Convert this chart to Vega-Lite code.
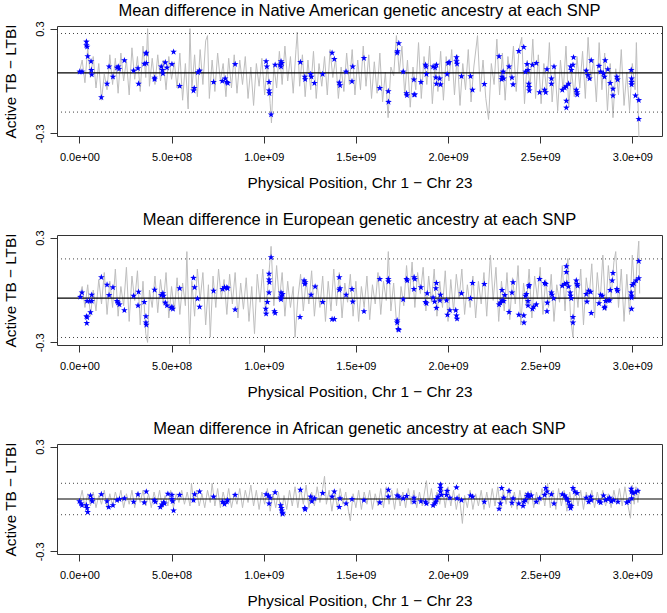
{
"$schema": "https://vega.github.io/schema/vega-lite/v6.json",
"padding": {"left": 3, "top": 2, "right": 0, "bottom": 0},
"spacing": 20,
"datasets": {
"r1": [{"k":"mean","v":0.047},{"k":"bound","v":0.272},{"k":"bound","v":-0.178}],
"r2": [{"k":"mean","v":-0.047},{"k":"bound","v":0.178},{"k":"bound","v":-0.272}],
"r3": [{"k":"mean","v":0.0},{"k":"bound","v":0.09},{"k":"bound","v":-0.09}],
"g1": [
{"x":0.00e8,"v":0.05},{"x":0.15e8,"v":0.12},{"x":0.30e8,"v":-0.01},{"x":0.45e8,"v":0.19},{"x":0.60e8,"v":0.02},{"x":0.75e8,"v":0.14},{"x":0.90e8,"v":-0.04},{"x":1.05e8,"v":0.10},{"x":1.20e8,"v":-0.11},{"x":1.35e8,"v":0.04},{"x":1.50e8,"v":-0.05},{"x":1.65e8,"v":0.15},{"x":1.80e8,"v":-0.02},{"x":1.95e8,"v":0.13},{"x":2.10e8,"v":-0.07},{"x":2.25e8,"v":0.16},{"x":2.40e8,"v":0.00},{"x":2.55e8,"v":0.12},{"x":2.70e8,"v":-0.08},{"x":2.85e8,"v":0.19},{"x":3.00e8,"v":0.01},{"x":3.15e8,"v":0.14},{"x":3.30e8,"v":-0.06},{"x":3.45e8,"v":0.20},{"x":3.60e8,"v":0.02},{"x":3.70e8,"v":0.30},{"x":3.80e8,"v":-0.03},{"x":3.95e8,"v":0.13},{"x":4.10e8,"v":-0.02},{"x":4.25e8,"v":0.15},{"x":4.40e8,"v":0.00},{"x":4.55e8,"v":0.12},{"x":4.70e8,"v":-0.05},{"x":4.85e8,"v":0.14},{"x":5.00e8,"v":0.01},{"x":5.15e8,"v":0.11},{"x":5.30e8,"v":-0.04},{"x":5.45e8,"v":0.16},{"x":5.60e8,"v":-0.11},{"x":5.75e8,"v":0.10},{"x":5.90e8,"v":-0.16},{"x":6.00e8,"v":0.30},{"x":6.10e8,"v":-0.05},{"x":6.25e8,"v":0.15},{"x":6.40e8,"v":-0.09},{"x":6.55e8,"v":0.18},{"x":6.70e8,"v":-0.02},{"x":6.85e8,"v":0.23},{"x":6.95e8,"v":0.26},{"x":7.05e8,"v":-0.10},{"x":7.20e8,"v":0.12},{"x":7.35e8,"v":-0.06},{"x":7.50e8,"v":0.16},{"x":7.65e8,"v":0.00},{"x":7.80e8,"v":0.10},{"x":7.95e8,"v":-0.09},{"x":8.10e8,"v":0.13},{"x":8.25e8,"v":-0.04},{"x":8.40e8,"v":0.15},{"x":8.55e8,"v":-0.07},{"x":8.70e8,"v":0.12},{"x":8.85e8,"v":-0.02},{"x":9.00e8,"v":0.14},{"x":9.15e8,"v":-0.10},{"x":9.30e8,"v":0.08},{"x":9.45e8,"v":-0.14},{"x":9.60e8,"v":0.10},{"x":9.75e8,"v":-0.03},{"x":9.90e8,"v":0.13},{"x":10.05e8,"v":-0.08},{"x":10.20e8,"v":0.10},{"x":10.35e8,"v":-0.13},{"x":10.42e8,"v":-0.24},{"x":10.55e8,"v":0.09},{"x":10.70e8,"v":-0.04},{"x":10.85e8,"v":0.17},{"x":11.00e8,"v":-0.02},{"x":11.15e8,"v":0.20},{"x":11.30e8,"v":0.00},{"x":11.45e8,"v":0.14},{"x":11.60e8,"v":-0.07},{"x":11.75e8,"v":0.18},{"x":11.82e8,"v":0.28},{"x":11.95e8,"v":-0.03},{"x":12.10e8,"v":0.15},{"x":12.25e8,"v":-0.09},{"x":12.40e8,"v":0.12},{"x":12.55e8,"v":-0.05},{"x":12.70e8,"v":0.17},{"x":12.85e8,"v":-0.10},{"x":13.00e8,"v":0.10},{"x":13.15e8,"v":-0.03},{"x":13.30e8,"v":0.14},{"x":13.45e8,"v":-0.08},{"x":13.60e8,"v":0.18},{"x":13.75e8,"v":0.02},{"x":13.90e8,"v":0.13},{"x":14.05e8,"v":-0.10},{"x":14.20e8,"v":0.08},{"x":14.35e8,"v":-0.06},{"x":14.50e8,"v":0.16},{"x":14.65e8,"v":-0.02},{"x":14.80e8,"v":0.18},{"x":14.95e8,"v":-0.08},{"x":15.10e8,"v":0.12},{"x":15.25e8,"v":-0.05},{"x":15.40e8,"v":0.20},{"x":15.55e8,"v":-0.03},{"x":15.70e8,"v":0.15},{"x":15.85e8,"v":-0.10},{"x":16.00e8,"v":0.11},{"x":16.15e8,"v":-0.07},{"x":16.30e8,"v":0.16},{"x":16.45e8,"v":-0.12},{"x":16.60e8,"v":0.05},{"x":16.75e8,"v":-0.21},{"x":16.90e8,"v":0.08},{"x":17.05e8,"v":0.03},{"x":17.20e8,"v":0.26},{"x":17.35e8,"v":0.05},{"x":17.50e8,"v":0.20},{"x":17.65e8,"v":-0.08},{"x":17.80e8,"v":0.12},{"x":17.95e8,"v":-0.15},{"x":18.10e8,"v":0.08},{"x":18.25e8,"v":-0.05},{"x":18.40e8,"v":0.22},{"x":18.55e8,"v":-0.10},{"x":18.70e8,"v":0.14},{"x":18.85e8,"v":-0.02},{"x":19.00e8,"v":0.20},{"x":19.15e8,"v":-0.13},{"x":19.30e8,"v":0.10},{"x":19.45e8,"v":-0.06},{"x":19.60e8,"v":0.17},{"x":19.75e8,"v":-0.11},{"x":19.90e8,"v":0.14},{"x":20.05e8,"v":0.00},{"x":20.20e8,"v":0.18},{"x":20.35e8,"v":-0.08},{"x":20.50e8,"v":0.15},{"x":20.65e8,"v":-0.14},{"x":20.80e8,"v":0.10},{"x":20.95e8,"v":-0.05},{"x":21.10e8,"v":0.18},{"x":21.25e8,"v":-0.12},{"x":21.40e8,"v":0.08},{"x":21.60e8,"v":0.26},{"x":21.75e8,"v":-0.06},{"x":21.90e8,"v":0.12},{"x":22.05e8,"v":-0.10},{"x":22.20e8,"v":-0.22},{"x":22.35e8,"v":0.10},{"x":22.50e8,"v":-0.02},{"x":22.65e8,"v":0.24},{"x":22.80e8,"v":-0.08},{"x":22.95e8,"v":0.16},{"x":23.10e8,"v":-0.11},{"x":23.25e8,"v":0.14},{"x":23.40e8,"v":0.00},{"x":23.55e8,"v":0.20},{"x":23.70e8,"v":-0.06},{"x":23.85e8,"v":0.18},{"x":24.00e8,"v":0.25},{"x":24.15e8,"v":-0.13},{"x":24.30e8,"v":0.12},{"x":24.45e8,"v":-0.04},{"x":24.60e8,"v":0.24},{"x":24.75e8,"v":-0.10},{"x":24.90e8,"v":0.15},{"x":25.05e8,"v":-0.13},{"x":25.20e8,"v":0.10},{"x":25.35e8,"v":-0.06},{"x":25.50e8,"v":0.22},{"x":25.65e8,"v":-0.12},{"x":25.80e8,"v":0.08},{"x":25.95e8,"v":-0.17},{"x":26.10e8,"v":0.12},{"x":26.25e8,"v":-0.06},{"x":26.40e8,"v":0.20},{"x":26.55e8,"v":-0.15},{"x":26.70e8,"v":0.06},{"x":26.85e8,"v":-0.09},{"x":27.00e8,"v":0.14},{"x":27.15e8,"v":-0.04},{"x":27.30e8,"v":0.17},{"x":27.45e8,"v":-0.10},{"x":27.60e8,"v":0.25},{"x":27.75e8,"v":0.00},{"x":27.90e8,"v":0.12},{"x":28.05e8,"v":-0.12},{"x":28.20e8,"v":0.22},{"x":28.35e8,"v":-0.05},{"x":28.50e8,"v":0.16},{"x":28.65e8,"v":-0.17},{"x":28.80e8,"v":0.10},{"x":28.95e8,"v":-0.21},{"x":29.10e8,"v":0.07},{"x":29.25e8,"v":-0.08},{"x":29.40e8,"v":0.18},{"x":29.55e8,"v":-0.14},{"x":29.70e8,"v":0.05},{"x":29.85e8,"v":-0.17},{"x":30.00e8,"v":0.10},{"x":30.15e8,"v":-0.05},{"x":30.22e8,"v":0.22},{"x":30.30e8,"v":-0.10},{"x":30.36e8,"v":-0.32}
],
"g2": [
{"x":0.00e8,"v":-0.04},{"x":0.15e8,"v":0.02},{"x":0.30e8,"v":-0.10},{"x":0.45e8,"v":0.03},{"x":0.60e8,"v":-0.15},{"x":0.75e8,"v":0.00},{"x":0.90e8,"v":-0.12},{"x":1.05e8,"v":0.06},{"x":1.20e8,"v":-0.08},{"x":1.35e8,"v":0.10},{"x":1.50e8,"v":-0.14},{"x":1.65e8,"v":0.05},{"x":1.80e8,"v":-0.10},{"x":1.95e8,"v":0.12},{"x":2.10e8,"v":-0.15},{"x":2.25e8,"v":0.02},{"x":2.40e8,"v":-0.09},{"x":2.55e8,"v":0.13},{"x":2.70e8,"v":-0.18},{"x":2.85e8,"v":0.08},{"x":3.00e8,"v":-0.06},{"x":3.15e8,"v":0.11},{"x":3.30e8,"v":-0.20},{"x":3.45e8,"v":0.05},{"x":3.60e8,"v":-0.25},{"x":3.70e8,"v":-0.30},{"x":3.80e8,"v":0.00},{"x":3.95e8,"v":-0.10},{"x":4.10e8,"v":0.08},{"x":4.25e8,"v":-0.13},{"x":4.40e8,"v":0.06},{"x":4.55e8,"v":-0.08},{"x":4.70e8,"v":0.10},{"x":4.85e8,"v":-0.16},{"x":5.00e8,"v":0.02},{"x":5.15e8,"v":-0.12},{"x":5.30e8,"v":0.07},{"x":5.45e8,"v":-0.14},{"x":5.60e8,"v":0.04},{"x":5.75e8,"v":-0.09},{"x":5.83e8,"v":0.22},{"x":5.98e8,"v":-0.31},{"x":6.10e8,"v":0.05},{"x":6.25e8,"v":-0.15},{"x":6.40e8,"v":0.12},{"x":6.55e8,"v":-0.06},{"x":6.70e8,"v":0.10},{"x":6.85e8,"v":-0.20},{"x":7.00e8,"v":0.03},{"x":7.10e8,"v":-0.27},{"x":7.25e8,"v":0.08},{"x":7.40e8,"v":-0.10},{"x":7.55e8,"v":0.12},{"x":7.70e8,"v":-0.05},{"x":7.85e8,"v":0.06},{"x":8.00e8,"v":-0.14},{"x":8.15e8,"v":0.09},{"x":8.30e8,"v":-0.08},{"x":8.45e8,"v":0.10},{"x":8.60e8,"v":-0.16},{"x":8.75e8,"v":0.04},{"x":8.90e8,"v":-0.11},{"x":9.05e8,"v":0.07},{"x":9.20e8,"v":-0.18},{"x":9.35e8,"v":0.02},{"x":9.50e8,"v":-0.25},{"x":9.65e8,"v":0.09},{"x":9.80e8,"v":-0.07},{"x":9.95e8,"v":0.12},{"x":10.10e8,"v":-0.13},{"x":10.25e8,"v":0.05},{"x":10.40e8,"v":0.25},{"x":10.55e8,"v":-0.09},{"x":10.70e8,"v":0.14},{"x":10.85e8,"v":-0.06},{"x":11.00e8,"v":0.10},{"x":11.15e8,"v":-0.15},{"x":11.30e8,"v":0.05},{"x":11.45e8,"v":-0.10},{"x":11.60e8,"v":0.02},{"x":11.70e8,"v":-0.27},{"x":11.85e8,"v":-0.05},{"x":12.00e8,"v":0.09},{"x":12.15e8,"v":-0.12},{"x":12.30e8,"v":0.06},{"x":12.45e8,"v":-0.08},{"x":12.60e8,"v":0.11},{"x":12.75e8,"v":-0.15},{"x":12.90e8,"v":0.03},{"x":13.05e8,"v":-0.10},{"x":13.20e8,"v":0.08},{"x":13.35e8,"v":-0.18},{"x":13.50e8,"v":0.05},{"x":13.65e8,"v":-0.12},{"x":13.80e8,"v":0.12},{"x":13.95e8,"v":-0.09},{"x":14.10e8,"v":0.10},{"x":14.25e8,"v":-0.16},{"x":14.40e8,"v":0.04},{"x":14.55e8,"v":-0.07},{"x":14.70e8,"v":0.09},{"x":14.85e8,"v":-0.15},{"x":15.00e8,"v":0.05},{"x":15.15e8,"v":-0.18},{"x":15.30e8,"v":0.02},{"x":15.45e8,"v":-0.10},{"x":15.60e8,"v":0.08},{"x":15.75e8,"v":-0.17},{"x":15.90e8,"v":0.03},{"x":16.05e8,"v":-0.08},{"x":16.20e8,"v":0.10},{"x":16.35e8,"v":-0.14},{"x":16.50e8,"v":0.05},{"x":16.65e8,"v":-0.06},{"x":16.76e8,"v":0.22},{"x":16.90e8,"v":-0.12},{"x":17.05e8,"v":0.04},{"x":17.20e8,"v":-0.18},{"x":17.30e8,"v":-0.23},{"x":17.45e8,"v":0.02},{"x":17.60e8,"v":-0.09},{"x":17.75e8,"v":0.14},{"x":17.90e8,"v":-0.05},{"x":18.05e8,"v":0.16},{"x":18.20e8,"v":-0.10},{"x":18.35e8,"v":0.10},{"x":18.50e8,"v":-0.02},{"x":18.65e8,"v":0.13},{"x":18.80e8,"v":-0.12},{"x":18.95e8,"v":0.08},{"x":19.10e8,"v":-0.07},{"x":19.25e8,"v":0.12},{"x":19.40e8,"v":-0.15},{"x":19.55e8,"v":0.05},{"x":19.70e8,"v":-0.10},{"x":19.85e8,"v":0.11},{"x":20.00e8,"v":-0.18},{"x":20.15e8,"v":0.06},{"x":20.30e8,"v":-0.12},{"x":20.45e8,"v":0.09},{"x":20.60e8,"v":-0.05},{"x":20.75e8,"v":0.12},{"x":20.90e8,"v":-0.14},{"x":21.05e8,"v":0.03},{"x":21.20e8,"v":-0.10},{"x":21.35e8,"v":0.08},{"x":21.50e8,"v":-0.16},{"x":21.65e8,"v":0.05},{"x":21.80e8,"v":-0.08},{"x":21.95e8,"v":0.10},{"x":22.10e8,"v":-0.15},{"x":22.30e8,"v":0.20},{"x":22.45e8,"v":-0.06},{"x":22.60e8,"v":0.13},{"x":22.75e8,"v":-0.18},{"x":22.90e8,"v":0.05},{"x":23.05e8,"v":-0.12},{"x":23.20e8,"v":0.10},{"x":23.35e8,"v":-0.17},{"x":23.50e8,"v":0.07},{"x":23.65e8,"v":-0.08},{"x":23.80e8,"v":0.14},{"x":23.95e8,"v":-0.20},{"x":24.10e8,"v":0.04},{"x":24.25e8,"v":-0.09},{"x":24.40e8,"v":0.12},{"x":24.55e8,"v":-0.16},{"x":24.70e8,"v":0.08},{"x":24.85e8,"v":-0.05},{"x":25.00e8,"v":0.13},{"x":25.15e8,"v":-0.14},{"x":25.30e8,"v":0.06},{"x":25.45e8,"v":-0.10},{"x":25.60e8,"v":0.09},{"x":25.75e8,"v":-0.18},{"x":25.90e8,"v":0.03},{"x":26.05e8,"v":-0.07},{"x":26.20e8,"v":0.14},{"x":26.35e8,"v":-0.12},{"x":26.50e8,"v":0.18},{"x":26.65e8,"v":-0.16},{"x":26.78e8,"v":-0.27},{"x":26.90e8,"v":0.06},{"x":27.05e8,"v":-0.10},{"x":27.20e8,"v":0.12},{"x":27.35e8,"v":-0.20},{"x":27.50e8,"v":0.07},{"x":27.65e8,"v":-0.05},{"x":27.80e8,"v":0.15},{"x":27.95e8,"v":-0.16},{"x":28.10e8,"v":0.10},{"x":28.25e8,"v":-0.08},{"x":28.40e8,"v":0.20},{"x":28.55e8,"v":-0.12},{"x":28.70e8,"v":0.14},{"x":28.85e8,"v":-0.04},{"x":29.00e8,"v":0.16},{"x":29.10e8,"v":0.22},{"x":29.25e8,"v":-0.10},{"x":29.40e8,"v":0.12},{"x":29.55e8,"v":-0.18},{"x":29.70e8,"v":0.09},{"x":29.85e8,"v":-0.14},{"x":30.00e8,"v":0.20},{"x":30.15e8,"v":-0.05},{"x":30.25e8,"v":0.15},{"x":30.35e8,"v":0.28},{"x":30.40e8,"v":-0.02}
],
"g3": [
{"x":0.00e8,"v":-0.02},{"x":0.15e8,"v":0.05},{"x":0.30e8,"v":-0.05},{"x":0.45e8,"v":0.03},{"x":0.60e8,"v":-0.04},{"x":0.75e8,"v":0.04},{"x":0.90e8,"v":-0.05},{"x":1.05e8,"v":0.02},{"x":1.20e8,"v":-0.03},{"x":1.35e8,"v":0.05},{"x":1.50e8,"v":-0.05},{"x":1.65e8,"v":0.03},{"x":1.80e8,"v":-0.04},{"x":1.95e8,"v":0.04},{"x":2.10e8,"v":-0.02},{"x":2.25e8,"v":0.05},{"x":2.40e8,"v":-0.05},{"x":2.55e8,"v":0.03},{"x":2.70e8,"v":-0.03},{"x":2.85e8,"v":0.05},{"x":3.00e8,"v":-0.05},{"x":3.15e8,"v":0.04},{"x":3.30e8,"v":-0.02},{"x":3.45e8,"v":0.05},{"x":3.60e8,"v":-0.04},{"x":3.75e8,"v":0.03},{"x":3.90e8,"v":-0.05},{"x":4.05e8,"v":0.04},{"x":4.20e8,"v":-0.03},{"x":4.35e8,"v":0.05},{"x":4.50e8,"v":-0.05},{"x":4.65e8,"v":0.02},{"x":4.80e8,"v":-0.04},{"x":4.95e8,"v":0.05},{"x":5.10e8,"v":-0.05},{"x":5.25e8,"v":0.03},{"x":5.40e8,"v":-0.02},{"x":5.55e8,"v":0.05},{"x":5.70e8,"v":-0.03},{"x":5.85e8,"v":0.04},{"x":6.00e8,"v":-0.04},{"x":6.08e8,"v":0.09},{"x":6.20e8,"v":-0.02},{"x":6.35e8,"v":0.05},{"x":6.50e8,"v":-0.04},{"x":6.65e8,"v":0.03},{"x":6.80e8,"v":-0.05},{"x":6.95e8,"v":0.05},{"x":7.10e8,"v":-0.02},{"x":7.20e8,"v":0.09},{"x":7.35e8,"v":-0.04},{"x":7.50e8,"v":0.06},{"x":7.65e8,"v":-0.05},{"x":7.80e8,"v":0.04},{"x":7.95e8,"v":-0.03},{"x":8.10e8,"v":0.06},{"x":8.25e8,"v":-0.05},{"x":8.40e8,"v":0.03},{"x":8.55e8,"v":-0.03},{"x":8.70e8,"v":0.06},{"x":8.85e8,"v":-0.05},{"x":9.00e8,"v":0.05},{"x":9.15e8,"v":-0.02},{"x":9.30e8,"v":0.08},{"x":9.45e8,"v":-0.04},{"x":9.60e8,"v":0.05},{"x":9.75e8,"v":-0.06},{"x":9.90e8,"v":0.04},{"x":10.05e8,"v":-0.03},{"x":10.20e8,"v":0.06},{"x":10.35e8,"v":-0.07},{"x":10.50e8,"v":0.03},{"x":10.65e8,"v":-0.05},{"x":10.80e8,"v":0.04},{"x":10.95e8,"v":-0.10},{"x":11.10e8,"v":0.02},{"x":11.25e8,"v":-0.06},{"x":11.40e8,"v":0.05},{"x":11.55e8,"v":-0.04},{"x":11.70e8,"v":0.07},{"x":11.85e8,"v":-0.05},{"x":12.00e8,"v":0.06},{"x":12.15e8,"v":-0.03},{"x":12.30e8,"v":0.08},{"x":12.45e8,"v":-0.05},{"x":12.60e8,"v":0.04},{"x":12.75e8,"v":-0.04},{"x":12.90e8,"v":0.07},{"x":13.05e8,"v":-0.02},{"x":13.20e8,"v":0.06},{"x":13.30e8,"v":0.13},{"x":13.40e8,"v":-0.03},{"x":13.55e8,"v":0.05},{"x":13.70e8,"v":-0.07},{"x":13.85e8,"v":0.04},{"x":14.00e8,"v":-0.05},{"x":14.15e8,"v":0.06},{"x":14.30e8,"v":-0.03},{"x":14.45e8,"v":0.04},{"x":14.60e8,"v":-0.07},{"x":14.70e8,"v":-0.125},{"x":14.85e8,"v":0.03},{"x":15.00e8,"v":-0.05},{"x":15.15e8,"v":0.05},{"x":15.30e8,"v":-0.06},{"x":15.45e8,"v":0.04},{"x":15.60e8,"v":-0.03},{"x":15.75e8,"v":0.05},{"x":15.90e8,"v":-0.06},{"x":16.05e8,"v":0.03},{"x":16.20e8,"v":-0.04},{"x":16.35e8,"v":0.06},{"x":16.50e8,"v":-0.05},{"x":16.65e8,"v":0.07},{"x":16.80e8,"v":-0.03},{"x":16.95e8,"v":0.05},{"x":17.10e8,"v":-0.06},{"x":17.25e8,"v":0.06},{"x":17.40e8,"v":-0.04},{"x":17.55e8,"v":0.04},{"x":17.70e8,"v":-0.05},{"x":17.85e8,"v":0.06},{"x":18.00e8,"v":-0.03},{"x":18.15e8,"v":0.05},{"x":18.30e8,"v":-0.05},{"x":18.45e8,"v":0.04},{"x":18.60e8,"v":-0.04},{"x":18.83e8,"v":0.105},{"x":18.95e8,"v":-0.03},{"x":19.10e8,"v":0.06},{"x":19.25e8,"v":-0.05},{"x":19.40e8,"v":0.04},{"x":19.55e8,"v":-0.03},{"x":19.70e8,"v":0.06},{"x":19.85e8,"v":-0.05},{"x":20.00e8,"v":0.07},{"x":20.15e8,"v":-0.04},{"x":20.30e8,"v":0.05},{"x":20.45e8,"v":-0.06},{"x":20.60e8,"v":0.03},{"x":20.78e8,"v":-0.14},{"x":20.90e8,"v":0.02},{"x":21.05e8,"v":-0.05},{"x":21.20e8,"v":0.05},{"x":21.35e8,"v":-0.06},{"x":21.50e8,"v":0.03},{"x":21.65e8,"v":-0.04},{"x":21.80e8,"v":0.05},{"x":21.95e8,"v":-0.06},{"x":22.10e8,"v":0.04},{"x":22.25e8,"v":-0.05},{"x":22.40e8,"v":0.06},{"x":22.55e8,"v":-0.04},{"x":22.70e8,"v":0.07},{"x":22.85e8,"v":-0.06},{"x":23.00e8,"v":0.05},{"x":23.15e8,"v":-0.03},{"x":23.30e8,"v":0.06},{"x":23.45e8,"v":-0.05},{"x":23.60e8,"v":0.04},{"x":23.75e8,"v":-0.06},{"x":23.90e8,"v":0.05},{"x":24.05e8,"v":-0.04},{"x":24.20e8,"v":0.04},{"x":24.35e8,"v":-0.03},{"x":24.50e8,"v":0.05},{"x":24.65e8,"v":-0.05},{"x":24.80e8,"v":0.04},{"x":24.95e8,"v":-0.03},{"x":25.10e8,"v":0.06},{"x":25.25e8,"v":-0.04},{"x":25.40e8,"v":0.09},{"x":25.55e8,"v":-0.05},{"x":25.70e8,"v":0.05},{"x":25.85e8,"v":-0.06},{"x":26.00e8,"v":0.06},{"x":26.15e8,"v":-0.04},{"x":26.30e8,"v":0.05},{"x":26.45e8,"v":-0.07},{"x":26.60e8,"v":0.04},{"x":26.75e8,"v":-0.05},{"x":26.90e8,"v":0.06},{"x":27.05e8,"v":-0.04},{"x":27.20e8,"v":0.05},{"x":27.35e8,"v":-0.06},{"x":27.50e8,"v":0.04},{"x":27.65e8,"v":-0.03},{"x":27.80e8,"v":0.05},{"x":27.95e8,"v":-0.05},{"x":28.10e8,"v":0.04},{"x":28.25e8,"v":-0.03},{"x":28.40e8,"v":0.05},{"x":28.55e8,"v":-0.04},{"x":28.70e8,"v":0.03},{"x":28.85e8,"v":-0.05},{"x":29.00e8,"v":0.05},{"x":29.15e8,"v":-0.03},{"x":29.30e8,"v":0.06},{"x":29.45e8,"v":-0.04},{"x":29.60e8,"v":0.07},{"x":29.75e8,"v":-0.03},{"x":29.90e8,"v":-0.11},{"x":30.00e8,"v":0.08},{"x":30.10e8,"v":-0.03},{"x":30.20e8,"v":0.07},{"x":30.30e8,"v":-0.02},{"x":30.38e8,"v":0.05}
],
"s1": [
{"x":0.02e8,"v":0.053},{"x":0.14e8,"v":0.053},{"x":0.38e8,"v":0.225},{"x":0.38e8,"v":0.204},{"x":0.42e8,"v":0.196},{"x":0.45e8,"v":0.141},{"x":0.63e8,"v":0.112},{"x":0.65e8,"v":0.063},{"x":0.67e8,"v":0.037},{"x":1.19e8,"v":-0.094},{"x":1.50e8,"v":-0.016},{"x":1.61e8,"v":0.082},{"x":1.82e8,"v":0.024},{"x":2.04e8,"v":0.076},{"x":2.11e8,"v":0.082},{"x":2.15e8,"v":0.069},{"x":2.44e8,"v":0.118},{"x":2.94e8,"v":0.059},{"x":3.18e8,"v":0.073},{"x":3.21e8,"v":-0.016},{"x":3.52e8,"v":0.098},{"x":3.63e8,"v":0.161},{"x":3.61e8,"v":0.157},{"x":3.63e8,"v":0.102},{"x":4.08e8,"v":0.018},{"x":4.08e8,"v":0.010},{"x":4.44e8,"v":0.082},{"x":4.50e8,"v":0.063},{"x":4.53e8,"v":0.043},{"x":4.66e8,"v":0.106},{"x":4.75e8,"v":0.076},{"x":5.02e8,"v":0.096},{"x":5.11e8,"v":0.167},{"x":5.44e8,"v":-0.029},{"x":6.19e8,"v":-0.055},{"x":6.23e8,"v":-0.041},{"x":6.43e8,"v":0.049},{"x":6.52e8,"v":0.059},{"x":7.28e8,"v":-0.006},{"x":7.75e8,"v":0.0},{"x":7.91e8,"v":0.014},{"x":8.0e8,"v":-0.006},{"x":8.05e8,"v":-0.012},{"x":8.45e8,"v":0.096},{"x":10.13e8,"v":0.112},{"x":10.17e8,"v":0.082},{"x":10.29e8,"v":-0.006},{"x":10.29e8,"v":-0.055},{"x":10.31e8,"v":-0.071},{"x":10.40e8,"v":-0.192},{"x":10.62e8,"v":0.092},{"x":10.94e8,"v":0.112},{"x":10.98e8,"v":0.102},{"x":10.94e8,"v":0.082},{"x":10.89e8,"v":0.092},{"x":11.99e8,"v":0.108},{"x":12.23e8,"v":0.024},{"x":12.25e8,"v":0.010},{"x":12.55e8,"v":0.039},{"x":12.59e8,"v":0.024},{"x":12.75e8,"v":-0.012},{"x":13.20e8,"v":0.039},{"x":13.71e8,"v":0.161},{"x":13.83e8,"v":0.125},{"x":14.10e8,"v":-0.010},{"x":14.14e8,"v":-0.025},{"x":14.47e8,"v":0.053},{"x":14.79e8,"v":-0.002},{"x":14.83e8,"v":0.082},
{"x":15.44e8,"v":0.131},{"x":16.30e8,"v":-0.041},{"x":16.76e8,"v":-0.059},{"x":16.77e8,"v":-0.120},{"x":17.24e8,"v":0.161},{"x":17.26e8,"v":0.170},{"x":17.33e8,"v":0.216},{"x":17.57e8,"v":0.053},{"x":17.75e8,"v":-0.071},{"x":17.77e8,"v":-0.082},{"x":18.16e8,"v":-0.078},{"x":18.20e8,"v":-0.078},{"x":18.15e8,"v":0.008},{"x":18.53e8,"v":-0.006},{"x":18.78e8,"v":0.092},{"x":18.81e8,"v":0.082},{"x":18.83e8,"v":0.039},{"x":19.19e8,"v":0.082},{"x":19.37e8,"v":0.092},{"x":19.30e8,"v":0.076},{"x":19.34e8,"v":0.020},{"x":19.55e8,"v":0.014},{"x":19.37e8,"v":-0.016},{"x":19.59e8,"v":-0.020},{"x":19.95e8,"v":0.039},{"x":20.01e8,"v":0.102},{"x":20.06e8,"v":0.108},{"x":20.46e8,"v":0.135},{"x":20.46e8,"v":0.112},{"x":20.49e8,"v":0.098},{"x":20.73e8,"v":0.027},{"x":21.22e8,"v":0.027},{"x":21.33e8,"v":-0.051},{"x":21.97e8,"v":-0.018},{"x":22.77e8,"v":0.141},{"x":22.99e8,"v":0.053},{"x":22.93e8,"v":0.024},{"x":23.02e8,"v":0.014},{"x":22.91e8,"v":0.010},{"x":23.31e8,"v":0.082},{"x":23.47e8,"v":0.020},{"x":23.53e8,"v":-0.020},{"x":23.84e8,"v":0.171},{"x":24.11e8,"v":0.194},{"x":24.21e8,"v":0.053},{"x":24.34e8,"v":0.063},{"x":24.29e8,"v":0.096},{"x":24.58e8,"v":0.092},{"x":24.79e8,"v":0.102},{"x":24.38e8,"v":-0.016},{"x":24.40e8,"v":-0.035},{"x":24.41e8,"v":-0.055},{"x":24.97e8,"v":-0.065},{"x":25.24e8,"v":-0.051},{"x":25.30e8,"v":-0.065},{"x":25.37e8,"v":0.067},{"x":25.61e8,"v":0.014},{"x":25.61e8,"v":-0.016},{"x":25.75e8,"v":0.082},{"x":26.20e8,"v":-0.051},{"x":26.33e8,"v":-0.039},{"x":26.42e8,"v":-0.031},{"x":26.54e8,"v":-0.016},{"x":26.42e8,"v":-0.114},{"x":26.42e8,"v":-0.153},{"x":26.65e8,"v":0.082},{"x":26.69e8,"v":0.063},{"x":26.78e8,"v":0.092},{"x":26.81e8,"v":0.135},{"x":26.96e8,"v":-0.051},{"x":27.0e8,"v":-0.065},{"x":27.01e8,"v":-0.078},{"x":27.50e8,"v":0.059},{"x":27.59e8,"v":0.033},{"x":27.68e8,"v":0.014},{"x":27.77e8,"v":0.118},{"x":28.19e8,"v":0.086},{"x":28.28e8,"v":0.053},{"x":28.44e8,"v":0.043},{"x":28.49e8,"v":0.024},{"x":28.53e8,"v":0.118},{"x":28.67e8,"v":0.067},{"x":28.80e8,"v":-0.012},{"x":28.95e8,"v":-0.045},{"x":28.95e8,"v":-0.084},{"x":29.16e8,"v":0.024},{"x":29.20e8,"v":0.008},{"x":29.94e8,"v":0.063},{"x":29.96e8,"v":0.014},{"x":29.96e8,"v":-0.006},{"x":29.96e8,"v":-0.020},{"x":30.17e8,"v":-0.084},{"x":30.35e8,"v":-0.110},{"x":30.35e8,"v":-0.218}
],
"s2": [
{"x":0.05e8,"v":-0.040},{"x":0.14e8,"v":-0.015},{"x":0.42e8,"v":-0.063},{"x":0.56e8,"v":-0.063},{"x":0.67e8,"v":-0.028},{"x":0.67e8,"v":-0.063},{"x":0.38e8,"v":-0.151},{"x":0.42e8,"v":-0.157},{"x":0.40e8,"v":-0.190},{"x":0.60e8,"v":-0.128},{"x":1.19e8,"v":0.073},{"x":1.50e8,"v":0.030},{"x":1.61e8,"v":-0.030},{"x":1.82e8,"v":0.015},{"x":2.04e8,"v":-0.063},{"x":2.09e8,"v":-0.073},{"x":2.17e8,"v":-0.083},{"x":2.44e8,"v":-0.116},{"x":2.94e8,"v":-0.034},{"x":3.18e8,"v":-0.089},{"x":3.21e8,"v":-0.011},{"x":3.52e8,"v":-0.069},{"x":3.61e8,"v":-0.151},{"x":3.61e8,"v":-0.187},{"x":3.63e8,"v":-0.200},{"x":4.08e8,"v":0.001},{"x":4.44e8,"v":-0.030},{"x":4.53e8,"v":-0.019},{"x":4.57e8,"v":-0.034},{"x":4.66e8,"v":-0.073},{"x":4.75e8,"v":-0.089},{"x":4.98e8,"v":-0.103},{"x":5.07e8,"v":-0.108},{"x":5.02e8,"v":-0.097},{"x":5.44e8,"v":0.009},{"x":6.19e8,"v":0.069},{"x":6.25e8,"v":0.015},{"x":6.41e8,"v":-0.050},{"x":6.52e8,"v":-0.097},{"x":7.28e8,"v":-0.005},{"x":7.77e8,"v":0.005},{"x":7.87e8,"v":0.015},{"x":8.00e8,"v":0.015},{"x":8.04e8,"v":0.009},{"x":8.45e8,"v":-0.112},{"x":10.11e8,"v":-0.108},{"x":10.13e8,"v":-0.136},{"x":10.20e8,"v":-0.069},{"x":10.29e8,"v":-0.015},{"x":10.31e8,"v":0.044},{"x":10.29e8,"v":0.060},{"x":10.29e8,"v":0.093},{"x":10.40e8,"v":0.187},{"x":10.58e8,"v":-0.122},{"x":10.62e8,"v":-0.132},{"x":10.94e8,"v":-0.015},{"x":10.98e8,"v":-0.034},{"x":11.02e8,"v":-0.024},{"x":10.94e8,"v":-0.054},{"x":10.92e8,"v":-0.044},{"x":11.97e8,"v":-0.155},{"x":12.19e8,"v":0.054},{"x":12.25e8,"v":0.044},{"x":12.23e8,"v":0.034},{"x":12.57e8,"v":-0.028},{"x":12.79e8,"v":0.019},{"x":13.20e8,"v":-0.069},{"x":13.71e8,"v":-0.167},{"x":13.83e8,"v":-0.167},{"x":14.10e8,"v":0.073},{"x":14.14e8,"v":0.009},{"x":14.10e8,"v":0.001},{"x":14.47e8,"v":-0.028},{"x":14.79e8,"v":0.005},{"x":14.83e8,"v":-0.067},
{"x":15.44e8,"v":-0.122},{"x":16.30e8,"v":0.063},{"x":16.76e8,"v":0.063},{"x":16.77e8,"v":0.048},{"x":17.24e8,"v":-0.175},{"x":17.24e8,"v":-0.187},{"x":17.33e8,"v":-0.229},{"x":17.30e8,"v":-0.224},{"x":17.57e8,"v":-0.054},{"x":17.75e8,"v":0.063},{"x":17.79e8,"v":0.054},{"x":18.16e8,"v":0.073},{"x":18.20e8,"v":0.063},{"x":18.15e8,"v":0.005},{"x":18.53e8,"v":0.015},{"x":18.78e8,"v":-0.069},{"x":18.83e8,"v":-0.077},{"x":18.87e8,"v":-0.019},{"x":19.19e8,"v":-0.044},{"x":19.27e8,"v":-0.067},{"x":19.37e8,"v":-0.103},{"x":19.34e8,"v":0.009},{"x":19.37e8,"v":0.040},{"x":19.59e8,"v":-0.028},{"x":19.56e8,"v":-0.060},{"x":19.92e8,"v":-0.060},{"x":19.97e8,"v":-0.142},{"x":20.10e8,"v":-0.116},{"x":20.42e8,"v":-0.116},{"x":20.46e8,"v":-0.147},{"x":20.49e8,"v":-0.165},{"x":20.73e8,"v":-0.019},{"x":21.22e8,"v":-0.048},{"x":21.33e8,"v":0.040},{"x":21.97e8,"v":0.034},{"x":22.77e8,"v":-0.083},{"x":22.84e8,"v":-0.073},{"x":22.93e8,"v":-0.060},{"x":23.02e8,"v":-0.063},{"x":23.08e8,"v":-0.030},{"x":22.93e8,"v":-0.001},{"x":23.31e8,"v":-0.126},{"x":23.47e8,"v":-0.015},{"x":23.53e8,"v":0.044},{"x":23.84e8,"v":-0.142},{"x":24.11e8,"v":-0.146},{"x":24.12e8,"v":-0.187},{"x":24.20e8,"v":-0.034},{"x":24.25e8,"v":-0.024},{"x":24.34e8,"v":-0.063},{"x":24.38e8,"v":0.020},{"x":24.40e8,"v":0.028},{"x":24.34e8,"v":-0.089},{"x":24.58e8,"v":-0.108},{"x":24.65e8,"v":-0.097},{"x":24.79e8,"v":-0.083},{"x":24.97e8,"v":0.063},{"x":25.24e8,"v":0.040},{"x":25.30e8,"v":0.034},{"x":25.37e8,"v":-0.122},{"x":25.39e8,"v":-0.073},{"x":25.61e8,"v":-0.015},{"x":25.64e8,"v":-0.028},{"x":25.73e8,"v":-0.048},{"x":26.20e8,"v":0.024},{"x":26.33e8,"v":0.034},{"x":26.42e8,"v":0.136},{"x":26.42e8,"v":0.103},{"x":26.45e8,"v":0.040},{"x":26.54e8,"v":0.020},{"x":26.63e8,"v":-0.015},{"x":26.65e8,"v":-0.034},{"x":26.69e8,"v":-0.048},{"x":26.78e8,"v":-0.155},{"x":26.78e8,"v":-0.187},{"x":26.96e8,"v":0.054},{"x":27.00e8,"v":0.034},{"x":27.03e8,"v":0.024},{"x":27.50e8,"v":-0.024},{"x":27.54e8,"v":-0.067},{"x":27.63e8,"v":-0.005},{"x":27.74e8,"v":-0.011},{"x":27.77e8,"v":-0.132},{"x":28.19e8,"v":-0.077},{"x":28.28e8,"v":-0.028},{"x":28.37e8,"v":-0.034},{"x":28.49e8,"v":-0.103},{"x":28.50e8,"v":-0.097},{"x":28.55e8,"v":-0.063},{"x":28.68e8,"v":-0.060},{"x":28.77e8,"v":-0.060},{"x":28.80e8,"v":-0.001},{"x":28.91e8,"v":0.054},{"x":28.95e8,"v":0.097},{"x":29.16e8,"v":0.005},{"x":29.20e8,"v":-0.005},{"x":29.94e8,"v":-0.015},{"x":29.96e8,"v":-0.034},{"x":29.96e8,"v":-0.044},{"x":29.96e8,"v":-0.108},{"x":30.00e8,"v":0.028},{"x":30.08e8,"v":0.038},{"x":30.21e8,"v":0.054},{"x":30.35e8,"v":0.067},{"x":30.35e8,"v":0.165}
],
"s3": [
{"x":0.00e8,"v":-0.013},{"x":0.09e8,"v":-0.026},{"x":0.14e8,"v":-0.036},{"x":0.38e8,"v":-0.036},{"x":0.45e8,"v":-0.075},{"x":0.42e8,"v":-0.052},{"x":0.60e8,"v":0.019},{"x":0.67e8,"v":-0.001},{"x":0.70e8,"v":-0.013},{"x":1.19e8,"v":0.027},{"x":1.50e8,"v":-0.013},{"x":1.59e8,"v":-0.046},{"x":1.82e8,"v":-0.036},{"x":2.04e8,"v":-0.007},{"x":2.17e8,"v":-0.001},{"x":2.44e8,"v":0.003},{"x":2.94e8,"v":-0.016},{"x":3.18e8,"v":0.027},{"x":3.52e8,"v":-0.020},{"x":3.63e8,"v":0.042},{"x":4.06e8,"v":-0.007},{"x":4.12e8,"v":-0.016},{"x":4.39e8,"v":-0.046},{"x":4.48e8,"v":-0.032},{"x":4.57e8,"v":-0.020},{"x":4.62e8,"v":-0.026},{"x":4.80e8,"v":0.029},{"x":5.02e8,"v":0.023},{"x":5.02e8,"v":-0.001},{"x":5.06e8,"v":-0.013},{"x":5.11e8,"v":-0.066},{"x":5.44e8,"v":0.023},{"x":6.19e8,"v":-0.007},{"x":6.25e8,"v":0.027},{"x":6.52e8,"v":0.042},{"x":7.28e8,"v":0.013},{"x":7.77e8,"v":-0.016},{"x":7.87e8,"v":-0.030},{"x":8.00e8,"v":-0.016},{"x":8.04e8,"v":-0.007},{"x":8.45e8,"v":0.023},{"x":10.13e8,"v":0.027},{"x":10.26e8,"v":0.019},{"x":10.35e8,"v":0.007},{"x":10.29e8,"v":-0.026},{"x":10.62e8,"v":0.038},{"x":10.92e8,"v":-0.036},{"x":10.96e8,"v":-0.052},{"x":10.98e8,"v":-0.066},{"x":11.02e8,"v":-0.079},{"x":11.03e8,"v":-0.085},{"x":11.99e8,"v":0.052},{"x":12.23e8,"v":-0.052},{"x":12.25e8,"v":-0.060},{"x":12.55e8,"v":0.013},{"x":12.61e8,"v":-0.013},{"x":12.75e8,"v":0.003},{"x":13.20e8,"v":0.033},{"x":13.71e8,"v":0.013},{"x":13.83e8,"v":0.042},{"x":14.10e8,"v":-0.046},{"x":14.14e8,"v":0.003},{"x":14.47e8,"v":-0.026},{"x":14.79e8,"v":-0.001},
{"x":15.44e8,"v":-0.007},{"x":16.30e8,"v":-0.020},{"x":16.76e8,"v":0.052},{"x":16.76e8,"v":0.013},{"x":17.24e8,"v":0.019},{"x":17.33e8,"v":0.013},{"x":17.57e8,"v":0.003},{"x":17.75e8,"v":0.017},{"x":18.15e8,"v":0.007},{"x":18.16e8,"v":-0.016},{"x":18.53e8,"v":-0.013},{"x":18.78e8,"v":-0.016},{"x":18.83e8,"v":-0.026},{"x":19.19e8,"v":-0.036},{"x":19.28e8,"v":-0.026},{"x":19.34e8,"v":-0.016},{"x":19.37e8,"v":-0.001},{"x":19.46e8,"v":0.013},{"x":19.59e8,"v":0.082},{"x":19.59e8,"v":0.062},{"x":19.59e8,"v":0.042},{"x":19.64e8,"v":0.023},{"x":19.92e8,"v":0.023},{"x":19.95e8,"v":0.046},{"x":20.10e8,"v":0.007},{"x":20.46e8,"v":0.066},{"x":20.49e8,"v":0.003},{"x":20.73e8,"v":-0.007},{"x":21.22e8,"v":0.019},{"x":21.33e8,"v":0.013},{"x":21.97e8,"v":-0.016},{"x":22.77e8,"v":-0.056},{"x":22.84e8,"v":-0.026},{"x":22.91e8,"v":0.062},{"x":23.02e8,"v":0.007},{"x":23.31e8,"v":0.046},{"x":23.47e8,"v":-0.022},{"x":23.53e8,"v":0.003},{"x":23.84e8,"v":-0.026},{"x":24.07e8,"v":-0.040},{"x":24.12e8,"v":-0.016},{"x":24.20e8,"v":-0.007},{"x":24.29e8,"v":0.017},{"x":24.34e8,"v":0.027},{"x":24.40e8,"v":0.013},{"x":24.52e8,"v":0.019},{"x":24.79e8,"v":-0.016},{"x":24.97e8,"v":0.003},{"x":25.24e8,"v":0.023},{"x":25.30e8,"v":0.062},{"x":25.37e8,"v":0.042},{"x":25.61e8,"v":0.027},{"x":25.75e8,"v":-0.026},{"x":26.20e8,"v":0.027},{"x":26.33e8,"v":0.019},{"x":26.42e8,"v":0.007},{"x":26.45e8,"v":-0.001},{"x":26.54e8,"v":-0.016},{"x":26.60e8,"v":-0.036},{"x":26.65e8,"v":-0.052},{"x":26.69e8,"v":-0.040},{"x":26.78e8,"v":0.062},{"x":26.87e8,"v":0.042},{"x":27.00e8,"v":0.033},{"x":27.50e8,"v":0.007},{"x":27.63e8,"v":-0.016},{"x":27.74e8,"v":0.013},{"x":27.77e8,"v":-0.007},{"x":28.19e8,"v":-0.013},{"x":28.28e8,"v":-0.020},{"x":28.44e8,"v":0.019},{"x":28.55e8,"v":-0.007},{"x":28.68e8,"v":-0.001},{"x":28.77e8,"v":0.007},{"x":28.86e8,"v":-0.013},{"x":28.98e8,"v":-0.007},{"x":29.22e8,"v":-0.016},{"x":29.70e8,"v":-0.020},{"x":29.81e8,"v":-0.013},{"x":29.94e8,"v":0.058},{"x":29.96e8,"v":0.042},{"x":29.96e8,"v":0.003},{"x":30.03e8,"v":0.033},{"x":30.17e8,"v":0.038},{"x":30.30e8,"v":0.046}
]
},
"vconcat": [
{
"title": "Mean difference in Native American genetic ancestry at each SNP",
"width": 605, "height": 110,
"layer": [
 {"data": {"name": "g1"}, "mark": {"type": "line", "color": "#BEBEBE", "strokeWidth": 1},
  "encoding": {
   "x": {"field": "x", "type": "quantitative", "scale": {"domain": [-121600000, 3161000000], "nice": false, "zero": false}, "title": "Physical Position, Chr 1 − Chr 23",
    "axis": {"values": [0, 500000000, 1000000000, 1500000000, 2000000000, 2500000000, 3000000000], "labelExpr": "replace(format(datum.value, '.1e'), 'e+', 'e+0')", "labelOverlap": false}},
   "y": {"field": "v", "type": "quantitative", "scale": {"domain": [-0.315, 0.315], "nice": false, "zero": false}, "title": "Active TB − LTBI",
    "axis": {"values": [-0.3, -0.1, 0.1, 0.3], "format": ".1f", "labelExpr": "replace(datum.label, '−', '-')", "labelAngle": -90, "labelAlign": "center", "labelBaseline": "bottom", "labelOverlap": false, "labelBound": false}}
  }},
 {"data": {"name": "r1"}, "transform": [{"filter": "datum.k == 'bound'"}], "mark": {"type": "rule", "color": "#444444", "strokeDash": [1, 3]},
  "encoding": {"y": {"field": "v", "type": "quantitative", "title": "Active TB − LTBI"}}},
 {"data": {"name": "r1"}, "transform": [{"filter": "datum.k == 'mean'"}], "mark": {"type": "rule", "color": "black", "strokeWidth": 1.2},
  "encoding": {"y": {"field": "v", "type": "quantitative", "title": "Active TB − LTBI"}}},
 {"data": {"name": "s1"}, "mark": {"type": "point", "shape": "M0,-1L0.235,-0.324L0.951,-0.309L0.38,0.124L0.588,0.809L0,0.4L-0.588,0.809L-0.38,0.124L-0.951,-0.309L-0.235,-0.324Z", "filled": true, "color": "#0000FF", "size": 48, "opacity": 1, "strokeWidth": 0},
  "encoding": {"x": {"field": "x", "type": "quantitative", "title": "Physical Position, Chr 1 − Chr 23"}, "y": {"field": "v", "type": "quantitative", "title": "Active TB − LTBI"}}}
]
},
{
"title": "Mean difference in European genetic ancestry at each SNP",
"width": 605, "height": 110,
"layer": [
 {"data": {"name": "g2"}, "mark": {"type": "line", "color": "#BEBEBE", "strokeWidth": 1},
  "encoding": {
   "x": {"field": "x", "type": "quantitative", "scale": {"domain": [-121600000, 3161000000], "nice": false, "zero": false}, "title": "Physical Position, Chr 1 − Chr 23",
    "axis": {"values": [0, 500000000, 1000000000, 1500000000, 2000000000, 2500000000, 3000000000], "labelExpr": "replace(format(datum.value, '.1e'), 'e+', 'e+0')", "labelOverlap": false}},
   "y": {"field": "v", "type": "quantitative", "scale": {"domain": [-0.315, 0.315], "nice": false, "zero": false}, "title": "Active TB − LTBI",
    "axis": {"values": [-0.3, -0.1, 0.1, 0.3], "format": ".1f", "labelExpr": "replace(datum.label, '−', '-')", "labelAngle": -90, "labelAlign": "center", "labelBaseline": "bottom", "labelOverlap": false, "labelBound": false}}
  }},
 {"data": {"name": "r2"}, "transform": [{"filter": "datum.k == 'bound'"}], "mark": {"type": "rule", "color": "#444444", "strokeDash": [1, 3]},
  "encoding": {"y": {"field": "v", "type": "quantitative", "title": "Active TB − LTBI"}}},
 {"data": {"name": "r2"}, "transform": [{"filter": "datum.k == 'mean'"}], "mark": {"type": "rule", "color": "black", "strokeWidth": 1.2},
  "encoding": {"y": {"field": "v", "type": "quantitative", "title": "Active TB − LTBI"}}},
 {"data": {"name": "s2"}, "mark": {"type": "point", "shape": "M0,-1L0.235,-0.324L0.951,-0.309L0.38,0.124L0.588,0.809L0,0.4L-0.588,0.809L-0.38,0.124L-0.951,-0.309L-0.235,-0.324Z", "filled": true, "color": "#0000FF", "size": 48, "opacity": 1, "strokeWidth": 0},
  "encoding": {"x": {"field": "x", "type": "quantitative", "title": "Physical Position, Chr 1 − Chr 23"}, "y": {"field": "v", "type": "quantitative", "title": "Active TB − LTBI"}}}
]
},
{
"title": "Mean difference in African genetic ancestry at each SNP",
"width": 605, "height": 110,
"layer": [
 {"data": {"name": "g3"}, "mark": {"type": "line", "color": "#BEBEBE", "strokeWidth": 1},
  "encoding": {
   "x": {"field": "x", "type": "quantitative", "scale": {"domain": [-121600000, 3161000000], "nice": false, "zero": false}, "title": "Physical Position, Chr 1 − Chr 23",
    "axis": {"values": [0, 500000000, 1000000000, 1500000000, 2000000000, 2500000000, 3000000000], "labelExpr": "replace(format(datum.value, '.1e'), 'e+', 'e+0')", "labelOverlap": false}},
   "y": {"field": "v", "type": "quantitative", "scale": {"domain": [-0.315, 0.315], "nice": false, "zero": false}, "title": "Active TB − LTBI",
    "axis": {"values": [-0.3, -0.1, 0.1, 0.3], "format": ".1f", "labelExpr": "replace(datum.label, '−', '-')", "labelAngle": -90, "labelAlign": "center", "labelBaseline": "bottom", "labelOverlap": false, "labelBound": false}}
  }},
 {"data": {"name": "r3"}, "transform": [{"filter": "datum.k == 'bound'"}], "mark": {"type": "rule", "color": "#444444", "strokeDash": [1, 3]},
  "encoding": {"y": {"field": "v", "type": "quantitative", "title": "Active TB − LTBI"}}},
 {"data": {"name": "r3"}, "transform": [{"filter": "datum.k == 'mean'"}], "mark": {"type": "rule", "color": "black", "strokeWidth": 1.2},
  "encoding": {"y": {"field": "v", "type": "quantitative", "title": "Active TB − LTBI"}}},
 {"data": {"name": "s3"}, "mark": {"type": "point", "shape": "M0,-1L0.235,-0.324L0.951,-0.309L0.38,0.124L0.588,0.809L0,0.4L-0.588,0.809L-0.38,0.124L-0.951,-0.309L-0.235,-0.324Z", "filled": true, "color": "#0000FF", "size": 48, "opacity": 1, "strokeWidth": 0},
  "encoding": {"x": {"field": "x", "type": "quantitative", "title": "Physical Position, Chr 1 − Chr 23"}, "y": {"field": "v", "type": "quantitative", "title": "Active TB − LTBI"}}}
]
}
],
"config": {
 "font": "Liberation Sans",
 "view": {"stroke": "#333333", "strokeWidth": 1},
 "title": {"fontSize": 16.5, "fontWeight": "normal", "color": "black", "anchor": "middle", "frame": "group", "offset": 1},
 "axis": {"grid": false, "domain": false, "ticks": true, "tickColor": "#333333", "tickSize": 7, "labelColor": "black", "labelFontSize": 11, "labelFlush": false, "labelOverlap": false, "titleColor": "black", "titleFontSize": 15.3, "titleFontWeight": "normal"},
 "axisX": {"labelPadding": 8, "titlePadding": 13},
 "axisY": {"labelPadding": 5, "titlePadding": 15.5}
}
}
